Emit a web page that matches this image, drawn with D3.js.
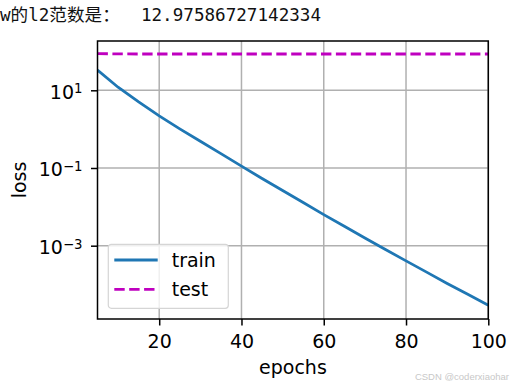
<!DOCTYPE html>
<html>
<head>
<meta charset="utf-8">
<script src="https://cdn.jsdelivr.net/npm/d3@7"></script>
<style>
  body { margin: 0; background: #fff; }
  svg { display: block; }
</style>
</head>
<body>
<div id="chart"></div>
<script>
// data (every 5 epochs)
const epochs = [5, 10, 15, 20, 25, 30, 35, 40, 45, 50, 55, 60, 65, 70, 75, 80, 85, 90, 95, 100];
const trainLoss = [33.1, 12.0, 5.01, 2.19, 1.02, 0.49, 0.234, 0.112, 0.0537, 0.0263,
    0.0129, 0.00631, 0.00316, 0.00158, 0.000794, 0.000407, 0.000209, 0.000107, 0.0000562, 0.0000295];
const testLoss = [88, 86.5, 86, 86, 86, 86, 86, 86, 86, 86,
    86, 86, 86, 86, 86, 86, 86, 86, 86, 86];
const xTicks = [20, 40, 60, 80, 100];
const yTicks = [1e1, 1e-1, 1e-3];
const yTickExp = ["1", "\u22121", "\u22123"];
const seriesNames = ["train", "test"];
const headerText = "w的l2范数是：  12.97586727142334";

const wSvg = 511;
const hSvg = 387;
const axLeft = 97.5, axRight = 488.3, axTop = 41, axBottom = 319;

const svg = d3.select("#chart")
    .append("svg")
    .attr("width", wSvg)
    .attr("height", hSvg);

// printed output above the figure
svg.append("text")
    .attr("x", 0)
    .attr("y", 21)
    .attr("font-family", "'DejaVu Sans Mono', 'Noto Sans CJK SC', monospace")
    .attr("font-size", 17.6)
    .attr("fill", "#111")
    .style("white-space", "pre")
    .text(headerText);

// Scales
const xScale = d3.scaleLinear([5, 100], [axLeft, axRight]);
const yScale = d3.scaleLog([Math.pow(10, -4.887), Math.pow(10, 2.269)], [axBottom, axTop]);

const font = "'DejaVu Sans', sans-serif";
const fs = 19;

// grid
svg.append("g")
    .selectAll("line")
    .data(xTicks)
    .enter()
    .append("line")
    .attr("x1", d => xScale(d)).attr("x2", d => xScale(d))
    .attr("y1", axTop).attr("y2", axBottom)
    .attr("stroke", "#b0b0b0").attr("stroke-width", 1.5);
svg.append("g")
    .selectAll("line")
    .data(yTicks)
    .enter()
    .append("line")
    .attr("x1", axLeft).attr("x2", axRight)
    .attr("y1", d => yScale(d)).attr("y2", d => yScale(d))
    .attr("stroke", "#b0b0b0").attr("stroke-width", 1.5);

// Axis
const xAxis = svg.append("g")
    .attr("transform", `translate(0, ${axBottom})`)
    .call(d3.axisBottom(xScale).tickValues(xTicks).tickSize(6.5).tickPadding(6.5).tickFormat(d3.format("d")));
const yAxis = svg.append("g")
    .attr("transform", `translate(${axLeft}, 0)`)
    .call(d3.axisLeft(yScale).tickValues(yTicks).tickSize(6.5).tickPadding(8.5).tickFormat(() => ""));

for (const ax of [xAxis, yAxis]) {
    ax.select(".domain").remove();
    ax.selectAll(".tick line").attr("stroke", "#000").attr("stroke-width", 1.5);
    ax.selectAll(".tick text")
        .attr("font-family", font)
        .attr("font-size", fs)
        .attr("fill", "#000");
}
xAxis.selectAll(".tick text").attr("y", 29).attr("dy", 0);

// y tick labels with superscripts
yAxis.selectAll(".tick text").each(function (d, i) {
    const t = d3.select(this).attr("dy", 8);
    t.append("tspan").text("10");
    t.append("tspan")
        .attr("font-size", fs * 0.7)
        .attr("dy", -5.5)
        .text(yTickExp[i]);
});

// Lines
const line = d3.line().x((d, i) => xScale(epochs[i])).y(d => yScale(d));
svg.append("clipPath").attr("id", "clip")
    .append("rect").attr("x", axLeft).attr("y", axTop)
    .attr("width", axRight - axLeft).attr("height", axBottom - axTop);

svg.append("path")
    .datum(trainLoss)
    .attr("d", line)
    .attr("clip-path", "url(#clip)")
    .attr("fill", "none")
    .attr("stroke", "#1f77b4")
    .attr("stroke-width", 2.8);
svg.append("path")
    .datum(testLoss)
    .attr("d", line)
    .attr("clip-path", "url(#clip)")
    .attr("fill", "none")
    .attr("stroke", "#bf00bf")
    .attr("stroke-width", 2.8)
    .attr("stroke-dasharray", "10.4,4.5");

// frame
svg.append("rect")
    .attr("x", axLeft).attr("y", axTop)
    .attr("width", axRight - axLeft).attr("height", axBottom - axTop)
    .attr("fill", "none").attr("stroke", "#000").attr("stroke-width", 1.5);

// axis labels
svg.append("text")
    .attr("x", (axLeft + axRight) / 2).attr("y", 374)
    .attr("text-anchor", "middle")
    .attr("font-family", font).attr("font-size", fs)
    .text("epochs");
svg.append("text")
    .attr("transform", `translate(25.5, ${(axTop + axBottom) / 2}) rotate(-90)`)
    .attr("text-anchor", "middle")
    .attr("font-family", font).attr("font-size", fs)
    .text("loss");

// legend
const legend = svg.append("g").attr("transform", "translate(108.3, 244.3)");
legend.append("rect")
    .attr("width", 120).attr("height", 64).attr("rx", 3)
    .attr("fill", "#fff").attr("fill-opacity", 0.8)
    .attr("stroke", "#d5d5d5").attr("stroke-width", 1.2);
const legendColors = ["#1f77b4", "#bf00bf"];
const legendDash = [null, "10.4,4.5"];
seriesNames.forEach((name, i) => {
    const y = 15.7 + i * 29.3;
    legend.append("line")
        .attr("x1", 6).attr("x2", 49.4)
        .attr("y1", y).attr("y2", y)
        .attr("stroke", legendColors[i]).attr("stroke-width", 2.8)
        .attr("stroke-dasharray", legendDash[i]);
    legend.append("text")
        .attr("x", 63.4).attr("y", y)
        .attr("dy", "0.35em")
        .attr("font-family", font).attr("font-size", fs)
        .text(name);
});

// watermark
svg.append("text")
    .attr("x", 509).attr("y", 380)
    .attr("text-anchor", "end")
    .attr("font-family", "'Liberation Sans', Arial, sans-serif")
    .attr("font-size", 9.5)
    .attr("fill", "#c8c8c8")
    .text("CSDN @coderxiaohar");
</script>
</body>
</html>
